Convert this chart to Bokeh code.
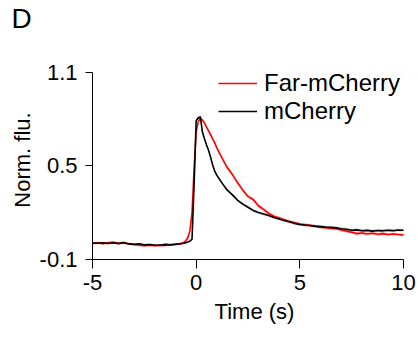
from bokeh.plotting import figure
from bokeh.models import (Range1d, FixedTicker, Legend, LegendItem, Title,
                          ColumnDataSource, CustomJSTickFormatter)
from bokeh.embed import file_html
from bokeh.resources import INLINE

# Sampling times (s); finer around stimulus onset
time_s = [
    -5.0, -4.75, -4.5, -4.25, -4.0, -3.75, -3.5, -3.25, -3.0, -2.75,
    -2.5, -2.25, -2.0, -1.75, -1.5, -1.25, -1.0, -0.75,
    -0.6, -0.5, -0.4, -0.3, -0.2, -0.1, 0.0, 0.1, 0.2, 0.3,
    0.4, 0.5, 0.6, 0.7, 0.8, 0.9, 1.0,
    1.25, 1.5, 1.75, 2.0, 2.25, 2.5, 2.75, 3.0, 3.25, 3.5,
    3.75, 4.0, 4.25, 4.5, 4.75, 5.0, 5.25, 5.5, 5.75, 6.0,
    6.25, 6.5, 6.75, 7.0, 7.25, 7.5, 7.75, 8.0, 8.25, 8.5,
    8.75, 9.0, 9.25, 9.5, 9.75, 10.0,
]

# Mean normalised fluorescence, Far-mCherry
far_mcherry = [
    0.003, 0.008, 0.002, 0.007, 0.010, 0.004, 0.006, 0.001, -0.004, -0.008,
    -0.011, -0.009, -0.012, -0.008, -0.010, -0.005, -0.003, 0.002,
    0.008, 0.020, 0.040, 0.085, 0.200, 0.480, 0.720, 0.785, 0.805, 0.795,
    0.775, 0.750, 0.725, 0.700, 0.672, 0.648, 0.615,
    0.550, 0.490, 0.445, 0.392, 0.345, 0.305, 0.285, 0.245, 0.222, 0.196,
    0.178, 0.167, 0.155, 0.143, 0.135, 0.128, 0.122, 0.118, 0.112, 0.108,
    0.104, 0.100, 0.097, 0.090, 0.082, 0.075, 0.066, 0.070, 0.064, 0.068,
    0.062, 0.066, 0.060, 0.064, 0.060, 0.058,
]

# Mean normalised fluorescence, mCherry
mcherry = [
    0.006, 0.004, 0.008, 0.003, 0.007, 0.002, 0.009, 0.000, -0.003, 0.001,
    -0.006, -0.004, -0.007, -0.009, -0.003, -0.006, -0.002, 0.001,
    0.004, 0.008, 0.012, 0.018, 0.030, 0.380, 0.790, 0.810, 0.815, 0.720,
    0.675, 0.635, 0.600, 0.555, 0.505, 0.465, 0.440,
    0.390, 0.345, 0.315, 0.280, 0.255, 0.235, 0.215, 0.202, 0.192, 0.183,
    0.170, 0.160, 0.150, 0.142, 0.132, 0.125, 0.121, 0.118, 0.114, 0.111,
    0.108, 0.106, 0.103, 0.097, 0.094, 0.088, 0.090, 0.084, 0.087, 0.082,
    0.086, 0.084, 0.088, 0.085, 0.089, 0.088,
]

# Standard error of the mean for each trace
far_mcherry_sem = [
    0.008, 0.008, 0.008, 0.008, 0.008, 0.008, 0.008, 0.008, 0.008, 0.008,
    0.008, 0.008, 0.008, 0.008, 0.008, 0.008, 0.008, 0.008,
    0.008, 0.008, 0.009, 0.010, 0.012, 0.014, 0.014, 0.012, 0.011, 0.011,
    0.011, 0.011, 0.011, 0.012, 0.012, 0.012, 0.012,
    0.012, 0.012, 0.012, 0.012, 0.012, 0.012, 0.013, 0.012, 0.012, 0.012,
    0.011, 0.011, 0.011, 0.010, 0.010, 0.010, 0.010, 0.010, 0.010, 0.010,
    0.010, 0.010, 0.010, 0.010, 0.010, 0.010, 0.010, 0.010, 0.010, 0.010,
    0.010, 0.010, 0.010, 0.010, 0.010, 0.010,
]
mcherry_sem = [
    0.006, 0.006, 0.006, 0.006, 0.006, 0.006, 0.006, 0.006, 0.006, 0.006,
    0.006, 0.006, 0.006, 0.006, 0.006, 0.006, 0.006, 0.006,
    0.006, 0.006, 0.006, 0.007, 0.008, 0.012, 0.012, 0.010, 0.010, 0.010,
    0.010, 0.010, 0.010, 0.010, 0.010, 0.010, 0.010,
    0.010, 0.010, 0.010, 0.010, 0.010, 0.010, 0.010, 0.010, 0.010, 0.010,
    0.010, 0.010, 0.010, 0.010, 0.010, 0.010, 0.010, 0.010, 0.010, 0.010,
    0.010, 0.010, 0.010, 0.010, 0.010, 0.010, 0.010, 0.010, 0.010, 0.010,
    0.010, 0.010, 0.010, 0.010, 0.010, 0.010,
]

x_ticks = [-5, 0, 5, 10]
y_ticks = [-0.1, 0.5, 1.1]

FONT = "Liberation Sans"

# Drawn axis extents; the frame is a little larger so that the legend
# and axis titles have room, the axis lines stop at these bounds.
X_LO, X_HI = -5.0, 10.0
Y_LO, Y_HI = -0.1, 1.1
X_PAD_HI = 0.627
Y_PAD_HI = 0.077

src = ColumnDataSource(dict(
    t=time_s,
    far=far_mcherry,
    far_lo=[m - s for m, s in zip(far_mcherry, far_mcherry_sem)],
    far_hi=[m + s for m, s in zip(far_mcherry, far_mcherry_sem)],
    mch=mcherry,
    mch_lo=[m - s for m, s in zip(mcherry, mcherry_sem)],
    mch_hi=[m + s for m, s in zip(mcherry, mcherry_sem)],
))

p = figure(
    width=417, height=338,
    x_range=Range1d(X_LO, X_HI + X_PAD_HI),
    y_range=Range1d(Y_LO, Y_HI + Y_PAD_HI),
    output_backend="svg", toolbar_location=None,
    min_border_left=92, min_border_right=1,
    min_border_top=60, min_border_bottom=79,
    background_fill_color="white", border_fill_color="white",
    title=None,
)
p.outline_line_color = None
p.grid.visible = False

# Panel letter: a spacer title next to the frame, then the letter above it
p.add_layout(Title(text=" ", text_font_size="1px", standoff=24), "above")
p.add_layout(Title(text="D", text_font=FONT, text_font_size="28px",
                   text_font_style="normal", text_color="#000000",
                   text_line_height=1.0,
                   align="left", offset=-81, standoff=0), "above")

# SEM bands
p.varea(x="t", y1="mch_lo", y2="mch_hi", source=src,
        fill_color="#000000", fill_alpha=0.15)
p.varea(x="t", y1="far_lo", y2="far_hi", source=src,
        fill_color="#ff0000", fill_alpha=0.22)

# Mean traces
r_far = p.line("t", "far", source=src, line_color="#ff0000",
               line_width=1.6, line_join="round")
r_mch = p.line("t", "mch", source=src, line_color="#000000",
               line_width=1.6, line_join="round")

# Axes
plain = CustomJSTickFormatter(code="return String(tick);")
for ax in (p.xaxis[0], p.yaxis[0]):
    ax.formatter = plain
    ax.axis_line_color = "#000000"
    ax.axis_line_width = 1
    ax.major_tick_line_color = "#000000"
    ax.major_tick_line_width = 1
    ax.major_tick_in = 0
    ax.minor_tick_line_color = None
    ax.major_label_text_font = FONT
    ax.major_label_text_font_size = "22px"
    ax.major_label_text_color = "#000000"
    ax.axis_label_text_font = FONT
    ax.axis_label_text_font_size = "22px"
    ax.axis_label_text_font_style = "normal"
    ax.axis_label_text_color = "#000000"

p.xaxis.bounds = (X_LO, X_HI)
p.yaxis.bounds = (Y_LO, Y_HI)
p.xaxis.ticker = FixedTicker(ticks=x_ticks)
p.yaxis.ticker = FixedTicker(ticks=y_ticks)
p.xaxis.major_tick_out = 9
p.yaxis.major_tick_out = 7
p.xaxis.major_label_standoff = 6
p.yaxis.major_label_standoff = 8
p.xaxis.axis_label = "Time (s)"
p.yaxis.axis_label = "Norm. flu."
p.xaxis.axis_label_standoff = 6
p.yaxis.axis_label_standoff = 2

# Legend
legend = Legend(
    items=[LegendItem(label="Far-mCherry", renderers=[r_far]),
           LegendItem(label="mCherry", renderers=[r_mch])],
    location=(126, 134),
    label_text_font=FONT, label_text_font_size="24px",
    label_text_color="#000000",
    glyph_width=39, glyph_height=20, label_height=20,
    label_standoff=7, spacing=-2, padding=0, margin=0,
    border_line_color=None, background_fill_alpha=0,
)
p.add_layout(legend)

open("out.html", "w").write(file_html(p, INLINE))
